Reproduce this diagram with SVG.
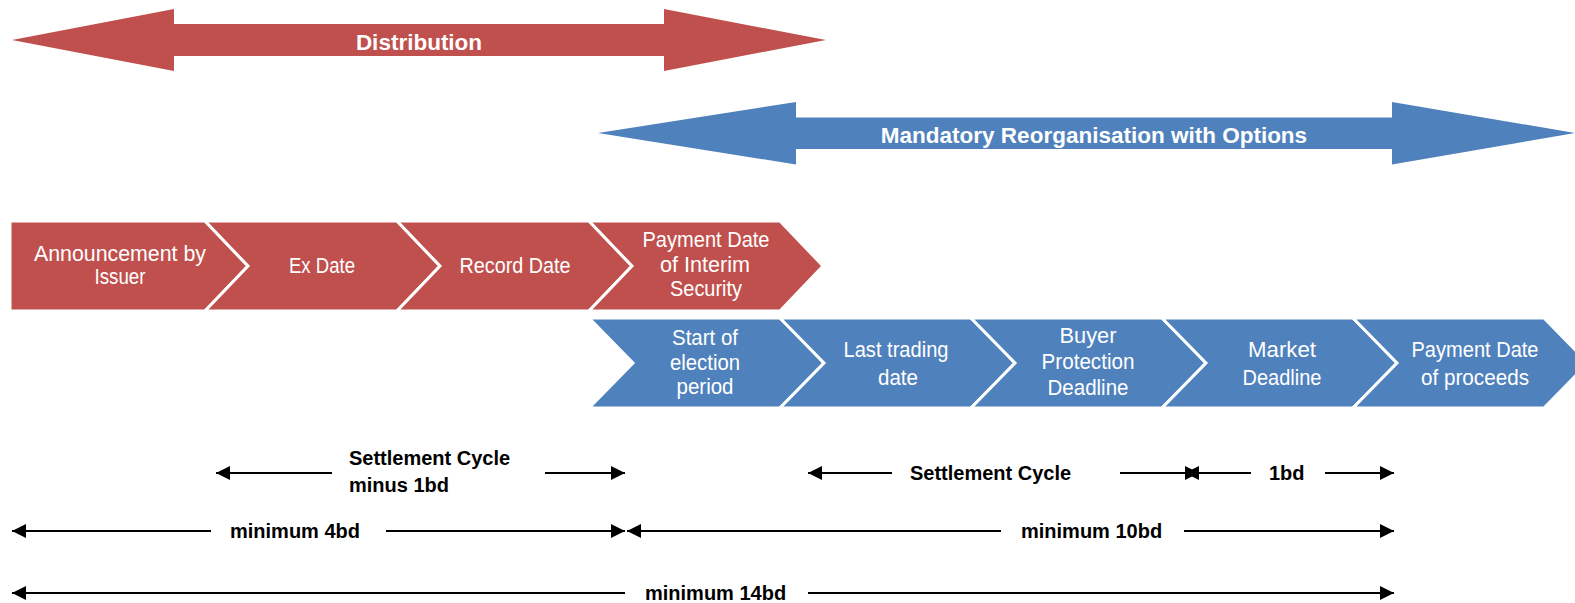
<svg xmlns="http://www.w3.org/2000/svg" width="1575" height="603" viewBox="0 0 1575 603">
  <style>
    .red { fill: #C0504D; }
    .blue { fill: #4F81BD; }
    .chev { stroke: #FFFFFF; stroke-width: 3; stroke-linejoin: miter; }
    .band { font-family: "Liberation Sans", Arial, sans-serif; font-weight: bold; font-size: 22.5px; fill: #FFFFFF; text-anchor: middle; }
    .step { font-family: "Liberation Sans Narrow", "Liberation Sans", Arial, sans-serif; font-size: 22px; fill: #FFFFFF; text-anchor: middle; }
    .dim { stroke: #000000; stroke-width: 2; fill: none; }
    .lbl { font-family: "Liberation Sans", Arial, sans-serif; font-weight: bold; font-size: 20px; fill: #000000; }
  </style>
  <defs>
    <marker id="head" markerUnits="userSpaceOnUse" markerWidth="15" markerHeight="15" refX="14" refY="7" orient="auto" viewBox="0 0 15 14">
      <path d="M0,0 L14,7 L0,14 Z" fill="#000000"/>
    </marker>
  </defs>

  <rect width="1575" height="603" fill="#FFFFFF"/>

  <!-- Period bands -->
  <g id="band-distribution">
    <polygon class="red" points="12,40 174,9 174,24 664,24 664,9 826,40 664,71 664,56 174,56 174,71"/>
    <text class="band" x="419" y="50">Distribution</text>
  </g>
  <g id="band-mandatory">
    <polygon class="blue" points="598,133 796,102 796,117.5 1392,117.5 1392,102 1575,133 1392,164.5 1392,149 796,149 796,164.5"/>
    <text class="band" x="1094" y="143">Mandatory Reorganisation with Options</text>
  </g>

  <!-- Distribution process steps -->
  <g id="step-announcement">
    <polygon class="red chev" points="10,221 205,221 248,266 205,311 10,311"/>
    <text class="step" x="120" y="261" textLength="172" lengthAdjust="spacingAndGlyphs">Announcement by</text>
    <text class="step" x="120" y="284" textLength="51" lengthAdjust="spacingAndGlyphs">Issuer</text>
  </g>
  <g id="step-exdate">
    <polygon class="red chev" points="205,221 397,221 440,266 397,311 205,311 248,266"/>
    <text class="step" x="322" y="273" textLength="66" lengthAdjust="spacingAndGlyphs">Ex Date</text>
  </g>
  <g id="step-recorddate">
    <polygon class="red chev" points="397,221 589,221 632,266 589,311 397,311 440,266"/>
    <text class="step" x="515" y="273" textLength="111" lengthAdjust="spacingAndGlyphs">Record Date</text>
  </g>
  <g id="step-interim-payment">
    <polygon class="red chev" points="589,221 780,221 823,266 780,311 589,311 632,266"/>
    <text class="step" x="706" y="247" textLength="127" lengthAdjust="spacingAndGlyphs">Payment Date</text>
    <text class="step" x="705" y="272" textLength="90" lengthAdjust="spacingAndGlyphs">of Interim</text>
    <text class="step" x="706" y="296" textLength="72" lengthAdjust="spacingAndGlyphs">Security</text>
  </g>

  <!-- Reorganisation process steps -->
  <g id="step-election-start">
    <polygon class="blue chev" points="589,318 780,318 824,363 780,408 589,408 633,363"/>
    <text class="step" x="705" y="345" textLength="66" lengthAdjust="spacingAndGlyphs">Start of</text>
    <text class="step" x="705" y="370" textLength="70" lengthAdjust="spacingAndGlyphs">election</text>
    <text class="step" x="705" y="394" textLength="57" lengthAdjust="spacingAndGlyphs">period</text>
  </g>
  <g id="step-last-trading">
    <polygon class="blue chev" points="780,318 971,318 1015,363 971,408 780,408 824,363"/>
    <text class="step" x="896" y="357" textLength="105" lengthAdjust="spacingAndGlyphs">Last trading</text>
    <text class="step" x="898" y="385" textLength="40" lengthAdjust="spacingAndGlyphs">date</text>
  </g>
  <g id="step-buyer-protection">
    <polygon class="blue chev" points="971,318 1162,318 1206,363 1162,408 971,408 1015,363"/>
    <text class="step" x="1088" y="343" textLength="57" lengthAdjust="spacingAndGlyphs">Buyer</text>
    <text class="step" x="1088" y="369" textLength="93" lengthAdjust="spacingAndGlyphs">Protection</text>
    <text class="step" x="1088" y="395" textLength="81" lengthAdjust="spacingAndGlyphs">Deadline</text>
  </g>
  <g id="step-market-deadline">
    <polygon class="blue chev" points="1162,318 1353,318 1397,363 1353,408 1162,408 1206,363"/>
    <text class="step" x="1282" y="357" textLength="68" lengthAdjust="spacingAndGlyphs">Market</text>
    <text class="step" x="1282" y="385" textLength="79" lengthAdjust="spacingAndGlyphs">Deadline</text>
  </g>
  <g id="step-proceeds-payment">
    <polygon class="blue chev" points="1353,318 1544,318 1588,363 1544,408 1353,408 1397,363"/>
    <text class="step" x="1475" y="357" textLength="127" lengthAdjust="spacingAndGlyphs">Payment Date</text>
    <text class="step" x="1475" y="385" textLength="108" lengthAdjust="spacingAndGlyphs">of proceeds</text>
  </g>

  <!-- Duration dimension lines -->
  <g id="connectors">
    <line class="dim" x1="332" y1="473" x2="216" y2="473" marker-end="url(#head)"/>
    <line class="dim" x1="545" y1="473" x2="625" y2="473" marker-end="url(#head)"/>
    <line class="dim" x1="892" y1="473" x2="808" y2="473" marker-end="url(#head)"/>
    <line class="dim" x1="1120" y1="473" x2="1199" y2="473" marker-end="url(#head)"/>
    <line class="dim" x1="1251" y1="473" x2="1185" y2="473" marker-end="url(#head)"/>
    <line class="dim" x1="1325" y1="473" x2="1394" y2="473" marker-end="url(#head)"/>

    <line class="dim" x1="211" y1="531" x2="12" y2="531" marker-end="url(#head)"/>
    <line class="dim" x1="386" y1="531" x2="625" y2="531" marker-end="url(#head)"/>
    <line class="dim" x1="1001" y1="531" x2="627" y2="531" marker-end="url(#head)"/>
    <line class="dim" x1="1184" y1="531" x2="1394" y2="531" marker-end="url(#head)"/>

    <line class="dim" x1="625" y1="593" x2="12" y2="593" marker-end="url(#head)"/>
    <line class="dim" x1="808" y1="593" x2="1394" y2="593" marker-end="url(#head)"/>
  </g>

  <g id="dimension-labels">
    <text class="lbl" x="349" y="465">Settlement Cycle</text>
    <text class="lbl" x="349" y="492">minus 1bd</text>
    <text class="lbl" x="910" y="480">Settlement Cycle</text>
    <text class="lbl" x="1269" y="480">1bd</text>
    <text class="lbl" x="230" y="538">minimum 4bd</text>
    <text class="lbl" x="1021" y="538">minimum 10bd</text>
    <text class="lbl" x="645" y="600">minimum 14bd</text>
  </g>
</svg>
